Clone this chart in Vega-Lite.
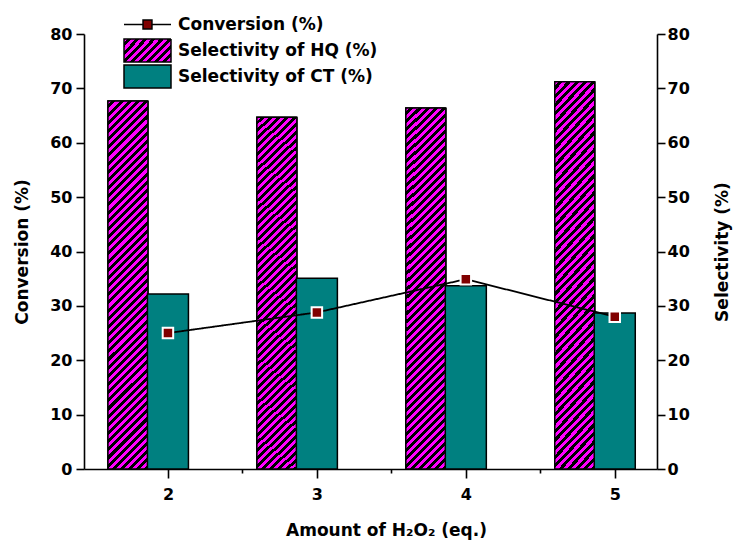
{
"$schema": "https://vega.github.io/schema/vega-lite/v6.json",
"width": 573,
"height": 435,
"autosize": "none",
"padding": {"left": 84, "top": 34, "right": 76, "bottom": 76},
"background": "white",
"config": {
  "view": {"stroke": null},
  "font": "DejaVu Sans",
  "axis": {"domainColor": "black", "domainWidth": 1.6, "tickColor": "black", "tickWidth": 1.6, "labelFont": "DejaVu Sans", "labelFontWeight": "bold", "labelFontSize": 16, "labelColor": "black", "titleFont": "DejaVu Sans", "titleFontWeight": "bold", "titleFontSize": 17, "titleColor": "black", "grid": false, "labelOverlap": false, "labelFlush": false},
  "legend": {"labelFont": "DejaVu Sans", "labelFontWeight": "bold", "labelFontSize": 17, "labelColor": "black", "labelOffset": 6, "labelLimit": 400, "padding": 0, "clipHeight": 25, "rowPadding": 1, "symbolSize": 2209, "symbolStrokeWidth": 1.5, "symbolOpacity": 1}
},
"data": {"values": [
  {"amount": 2, "conversion": 25, "hq": 67.7, "ct": 32.2},
  {"amount": 3, "conversion": 28.8, "hq": 64.7, "ct": 35.1},
  {"amount": 4, "conversion": 34.9, "hq": 66.4, "ct": 33.7},
  {"amount": 5, "conversion": 28, "hq": 71.2, "ct": 28.7}
]},
"layer": [
  {"layer": [
    {"mark": {"type": "bar", "width": 40, "xOffset": -40, "stroke": "black", "strokeWidth": 1.5,
      "fill": {"gradient": "linear", "x1": 0, "y1": 0, "x2": 1.374, "y2": 0.672, "stops": [
{"offset":0,"color":"#f0f"},{"offset":0.05,"color":"#f0f"},{"offset":0.05,"color":"#000"},{"offset":0.1,"color":"#000"},
{"offset":0.1,"color":"#f0f"},{"offset":0.15,"color":"#f0f"},{"offset":0.15,"color":"#000"},{"offset":0.2,"color":"#000"},
{"offset":0.2,"color":"#f0f"},{"offset":0.25,"color":"#f0f"},{"offset":0.25,"color":"#000"},{"offset":0.3,"color":"#000"},
{"offset":0.3,"color":"#f0f"},{"offset":0.35,"color":"#f0f"},{"offset":0.35,"color":"#000"},{"offset":0.4,"color":"#000"},
{"offset":0.4,"color":"#f0f"},{"offset":0.45,"color":"#f0f"},{"offset":0.45,"color":"#000"},{"offset":0.5,"color":"#000"},
{"offset":0.5,"color":"#f0f"},{"offset":0.55,"color":"#f0f"},{"offset":0.55,"color":"#000"},{"offset":0.6,"color":"#000"},
{"offset":0.6,"color":"#f0f"},{"offset":0.65,"color":"#f0f"},{"offset":0.65,"color":"#000"},{"offset":0.7,"color":"#000"},
{"offset":0.7,"color":"#f0f"},{"offset":0.75,"color":"#f0f"},{"offset":0.75,"color":"#000"},{"offset":0.8,"color":"#000"},
{"offset":0.8,"color":"#f0f"},{"offset":0.85,"color":"#f0f"},{"offset":0.85,"color":"#000"},{"offset":0.9,"color":"#000"},
{"offset":0.9,"color":"#f0f"},{"offset":0.95,"color":"#f0f"},{"offset":0.95,"color":"#000"},{"offset":1,"color":"#000"}
      ]}},
     "encoding": {
       "x": {"field": "amount", "type": "quantitative", "scale": {"domain": [1.47, 5.25], "nice": false, "zero": false},
         "axis": {"orient": "bottom", "values": [2, 2.5, 3, 3.5, 4, 4.5, 5], "labelExpr": "datum.value % 1 === 0 ? '' + datum.value : ''",
           "tickSize": {"condition": {"test": "datum.value % 1 === 0", "value": 9}, "value": 4},
           "labelPadding": 8, "title": "Amount of H₂O₂ (eq.)", "titlePadding": 20, "titleX": 302}},
       "y": {"field": "hq", "type": "quantitative", "scale": {"domain": [0, 80], "nice": false},
         "axis": {"orient": "right", "values": [0,5,10,15,20,25,30,35,40,45,50,55,60,65,70,75,80], "labelExpr": "datum.value % 10 === 0 ? '' + datum.value : ''",
           "tickSize": {"condition": {"test": "datum.value % 10 === 0", "value": 8}, "value": 4},
           "labelPadding": 2, "title": "Selectivity  (%)", "titleAngle": 270, "titleBaseline": "top", "titlePadding": 25}},
       "strokeDash": {"datum": "Selectivity of HQ (%)", "type": "nominal", "scale": {"domain": ["Selectivity of HQ (%)"], "range": [[1, 0]]},
         "legend": {"orient": "none", "legendX": 39, "legendY": 4, "title": null, "symbolType": "M-1,-0.49H1V0.49H-1Z"}}
     }
    },
    {"mark": {"type": "bar", "width": 40, "xOffset": -40, "stroke": "black", "strokeWidth": 1.5,
      "fill": {"gradient": "linear", "x1": 0, "y1": 0, "x2": 0.119, "y2": 1.096, "stops": [
{"offset":0,"color":"#f0f"},{"offset":0.01,"color":"#f0f"},{"offset":0.01,"color":"#000"},{"offset":0.02,"color":"#000"},
{"offset":0.02,"color":"#f0f"},{"offset":0.03,"color":"#f0f"},{"offset":0.03,"color":"#000"},{"offset":0.04,"color":"#000"},
{"offset":0.04,"color":"#f0f"},{"offset":0.05,"color":"#f0f"},{"offset":0.05,"color":"#000"},{"offset":0.06,"color":"#000"},
{"offset":0.06,"color":"#f0f"},{"offset":0.07,"color":"#f0f"},{"offset":0.07,"color":"#000"},{"offset":0.08,"color":"#000"},
{"offset":0.08,"color":"#f0f"},{"offset":0.09,"color":"#f0f"},{"offset":0.09,"color":"#000"},{"offset":0.1,"color":"#000"},
{"offset":0.1,"color":"#f0f"},{"offset":0.11,"color":"#f0f"},{"offset":0.11,"color":"#000"},{"offset":0.12,"color":"#000"},
{"offset":0.12,"color":"#f0f"},{"offset":0.13,"color":"#f0f"},{"offset":0.13,"color":"#000"},{"offset":0.14,"color":"#000"},
{"offset":0.14,"color":"#f0f"},{"offset":0.15,"color":"#f0f"},{"offset":0.15,"color":"#000"},{"offset":0.16,"color":"#000"},
{"offset":0.16,"color":"#f0f"},{"offset":0.17,"color":"#f0f"},{"offset":0.17,"color":"#000"},{"offset":0.18,"color":"#000"},
{"offset":0.18,"color":"#f0f"},{"offset":0.19,"color":"#f0f"},{"offset":0.19,"color":"#000"},{"offset":0.2,"color":"#000"},
{"offset":0.2,"color":"#f0f"},{"offset":0.21,"color":"#f0f"},{"offset":0.21,"color":"#000"},{"offset":0.22,"color":"#000"},
{"offset":0.22,"color":"#f0f"},{"offset":0.23,"color":"#f0f"},{"offset":0.23,"color":"#000"},{"offset":0.24,"color":"#000"},
{"offset":0.24,"color":"#f0f"},{"offset":0.25,"color":"#f0f"},{"offset":0.25,"color":"#000"},{"offset":0.26,"color":"#000"},
{"offset":0.26,"color":"#f0f"},{"offset":0.27,"color":"#f0f"},{"offset":0.27,"color":"#000"},{"offset":0.28,"color":"#000"},
{"offset":0.28,"color":"#f0f"},{"offset":0.29,"color":"#f0f"},{"offset":0.29,"color":"#000"},{"offset":0.3,"color":"#000"},
{"offset":0.3,"color":"#f0f"},{"offset":0.31,"color":"#f0f"},{"offset":0.31,"color":"#000"},{"offset":0.32,"color":"#000"},
{"offset":0.32,"color":"#f0f"},{"offset":0.33,"color":"#f0f"},{"offset":0.33,"color":"#000"},{"offset":0.34,"color":"#000"},
{"offset":0.34,"color":"#f0f"},{"offset":0.35,"color":"#f0f"},{"offset":0.35,"color":"#000"},{"offset":0.36,"color":"#000"},
{"offset":0.36,"color":"#f0f"},{"offset":0.37,"color":"#f0f"},{"offset":0.37,"color":"#000"},{"offset":0.38,"color":"#000"},
{"offset":0.38,"color":"#f0f"},{"offset":0.39,"color":"#f0f"},{"offset":0.39,"color":"#000"},{"offset":0.4,"color":"#000"},
{"offset":0.4,"color":"#f0f"},{"offset":0.41,"color":"#f0f"},{"offset":0.41,"color":"#000"},{"offset":0.42,"color":"#000"},
{"offset":0.42,"color":"#f0f"},{"offset":0.43,"color":"#f0f"},{"offset":0.43,"color":"#000"},{"offset":0.44,"color":"#000"},
{"offset":0.44,"color":"#f0f"},{"offset":0.45,"color":"#f0f"},{"offset":0.45,"color":"#000"},{"offset":0.46,"color":"#000"},
{"offset":0.46,"color":"#f0f"},{"offset":0.47,"color":"#f0f"},{"offset":0.47,"color":"#000"},{"offset":0.48,"color":"#000"},
{"offset":0.48,"color":"#f0f"},{"offset":0.49,"color":"#f0f"},{"offset":0.49,"color":"#000"},{"offset":0.5,"color":"#000"},
{"offset":0.5,"color":"#f0f"},{"offset":0.51,"color":"#f0f"},{"offset":0.51,"color":"#000"},{"offset":0.52,"color":"#000"},
{"offset":0.52,"color":"#f0f"},{"offset":0.53,"color":"#f0f"},{"offset":0.53,"color":"#000"},{"offset":0.54,"color":"#000"},
{"offset":0.54,"color":"#f0f"},{"offset":0.55,"color":"#f0f"},{"offset":0.55,"color":"#000"},{"offset":0.56,"color":"#000"},
{"offset":0.56,"color":"#f0f"},{"offset":0.57,"color":"#f0f"},{"offset":0.57,"color":"#000"},{"offset":0.58,"color":"#000"},
{"offset":0.58,"color":"#f0f"},{"offset":0.59,"color":"#f0f"},{"offset":0.59,"color":"#000"},{"offset":0.6,"color":"#000"},
{"offset":0.6,"color":"#f0f"},{"offset":0.61,"color":"#f0f"},{"offset":0.61,"color":"#000"},{"offset":0.62,"color":"#000"},
{"offset":0.62,"color":"#f0f"},{"offset":0.63,"color":"#f0f"},{"offset":0.63,"color":"#000"},{"offset":0.64,"color":"#000"},
{"offset":0.64,"color":"#f0f"},{"offset":0.65,"color":"#f0f"},{"offset":0.65,"color":"#000"},{"offset":0.66,"color":"#000"},
{"offset":0.66,"color":"#f0f"},{"offset":0.67,"color":"#f0f"},{"offset":0.67,"color":"#000"},{"offset":0.68,"color":"#000"},
{"offset":0.68,"color":"#f0f"},{"offset":0.69,"color":"#f0f"},{"offset":0.69,"color":"#000"},{"offset":0.7,"color":"#000"},
{"offset":0.7,"color":"#f0f"},{"offset":0.71,"color":"#f0f"},{"offset":0.71,"color":"#000"},{"offset":0.72,"color":"#000"},
{"offset":0.72,"color":"#f0f"},{"offset":0.73,"color":"#f0f"},{"offset":0.73,"color":"#000"},{"offset":0.74,"color":"#000"},
{"offset":0.74,"color":"#f0f"},{"offset":0.75,"color":"#f0f"},{"offset":0.75,"color":"#000"},{"offset":0.76,"color":"#000"},
{"offset":0.76,"color":"#f0f"},{"offset":0.77,"color":"#f0f"},{"offset":0.77,"color":"#000"},{"offset":0.78,"color":"#000"},
{"offset":0.78,"color":"#f0f"},{"offset":0.79,"color":"#f0f"},{"offset":0.79,"color":"#000"},{"offset":0.8,"color":"#000"},
{"offset":0.8,"color":"#f0f"},{"offset":0.81,"color":"#f0f"},{"offset":0.81,"color":"#000"},{"offset":0.82,"color":"#000"},
{"offset":0.82,"color":"#f0f"},{"offset":0.83,"color":"#f0f"},{"offset":0.83,"color":"#000"},{"offset":0.84,"color":"#000"},
{"offset":0.84,"color":"#f0f"},{"offset":0.85,"color":"#f0f"},{"offset":0.85,"color":"#000"},{"offset":0.86,"color":"#000"},
{"offset":0.86,"color":"#f0f"},{"offset":0.87,"color":"#f0f"},{"offset":0.87,"color":"#000"},{"offset":0.88,"color":"#000"},
{"offset":0.88,"color":"#f0f"},{"offset":0.89,"color":"#f0f"},{"offset":0.89,"color":"#000"},{"offset":0.9,"color":"#000"},
{"offset":0.9,"color":"#f0f"},{"offset":0.91,"color":"#f0f"},{"offset":0.91,"color":"#000"},{"offset":0.92,"color":"#000"},
{"offset":0.92,"color":"#f0f"},{"offset":0.93,"color":"#f0f"},{"offset":0.93,"color":"#000"},{"offset":0.94,"color":"#000"},
{"offset":0.94,"color":"#f0f"},{"offset":0.95,"color":"#f0f"},{"offset":0.95,"color":"#000"},{"offset":0.96,"color":"#000"},
{"offset":0.96,"color":"#f0f"},{"offset":0.97,"color":"#f0f"},{"offset":0.97,"color":"#000"},{"offset":0.98,"color":"#000"},
{"offset":0.98,"color":"#f0f"},{"offset":0.99,"color":"#f0f"},{"offset":0.99,"color":"#000"},{"offset":1,"color":"#000"}
      ]}},
     "encoding": {
       "x": {"field": "amount", "type": "quantitative"},
       "y": {"field": "hq", "type": "quantitative"}
     }
    },
    {"mark": {"type": "bar", "width": 41, "stroke": "black", "strokeWidth": 1.5},
     "encoding": {
       "x": {"field": "amount", "type": "quantitative"},
       "y": {"field": "ct", "type": "quantitative"},
       "color": {"datum": "Selectivity of CT (%)", "type": "nominal",
         "scale": {"domain": ["Selectivity of CT (%)"], "range": ["#008080"]},
         "legend": {"orient": "none", "legendX": 39, "legendY": 30, "title": null, "symbolType": "M-1,-0.49H1V0.49H-1Z", "symbolStrokeColor": "black"}}
     }
    }
  ]},
  {"layer": [
    {"mark": {"type": "line", "color": "black", "strokeWidth": 1.8},
     "encoding": {
       "x": {"field": "amount", "type": "quantitative"},
       "y": {"field": "conversion", "type": "quantitative", "scale": {"domain": [0, 80], "nice": false},
         "axis": {"orient": "left", "values": [0,5,10,15,20,25,30,35,40,45,50,55,60,65,70,75,80], "labelExpr": "datum.value % 10 === 0 ? '' + datum.value : ''",
           "tickSize": {"condition": {"test": "datum.value % 10 === 0", "value": 8}, "value": 4},
           "labelPadding": 4, "title": "Conversion (%)", "titlePadding": 18}},
       "strokeDash": {"datum": "Conversion (%)", "type": "nominal", "scale": {"domain": ["Conversion (%)"], "range": [[1, 0]]},
         "legend": {"orient": "none", "legendX": 39, "legendY": -22, "title": null,
           "symbolType": "M-1,0H-0.19M0.19,0H1M-0.19,-0.19H0.19V0.19H-0.19Z", "symbolFillColor": "#800000"}}
     }
    },
    {"mark": {"type": "point", "shape": "square", "filled": true, "size": 110, "fill": "#800000", "stroke": "white", "strokeWidth": 2, "opacity": 1},
     "encoding": {
       "x": {"field": "amount", "type": "quantitative"},
       "y": {"field": "conversion", "type": "quantitative"}
     }
    }
  ]}
],
"resolve": {"scale": {"y": "independent", "strokeDash": "independent"}, "legend": {"strokeDash": "independent"}}
}
